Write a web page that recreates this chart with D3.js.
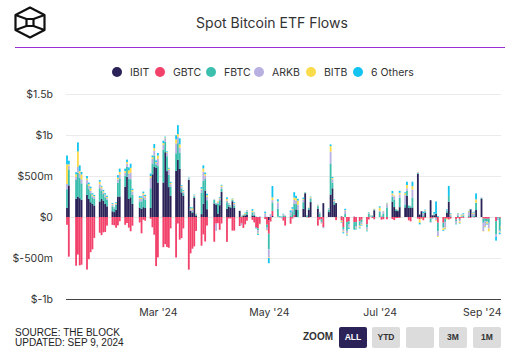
<!DOCTYPE html>
<html>
<head>
<meta charset="utf-8">
<script src="https://cdn.jsdelivr.net/npm/d3@7"></script>
<style>
  body { margin: 0; background: #fff; }
  svg { display: block; font-family: Inter, "Noto Sans", sans-serif; }
</style>
</head>
<body>
<svg id="chart" width="519" height="353"></svg>
<script>
// Trading days shown on the chart
const dates = [
  '2024-01-11','2024-01-12','2024-01-16','2024-01-17','2024-01-18','2024-01-19','2024-01-22','2024-01-23','2024-01-24','2024-01-25','2024-01-26','2024-01-29','2024-01-30','2024-01-31',
  '2024-02-01','2024-02-02','2024-02-05','2024-02-06','2024-02-07','2024-02-08','2024-02-09','2024-02-12','2024-02-13','2024-02-14','2024-02-15','2024-02-16','2024-02-20','2024-02-21','2024-02-22','2024-02-23','2024-02-26','2024-02-27','2024-02-28','2024-02-29',
  '2024-03-01','2024-03-04','2024-03-05','2024-03-06','2024-03-07','2024-03-08','2024-03-11','2024-03-12','2024-03-13','2024-03-14','2024-03-15','2024-03-18','2024-03-19','2024-03-20','2024-03-21','2024-03-22','2024-03-25','2024-03-26','2024-03-27','2024-03-28',
  '2024-04-01','2024-04-02','2024-04-03','2024-04-04','2024-04-05','2024-04-08','2024-04-09','2024-04-10','2024-04-11','2024-04-12','2024-04-15','2024-04-16','2024-04-17','2024-04-18','2024-04-19','2024-04-22','2024-04-23','2024-04-24','2024-04-25','2024-04-26','2024-04-29','2024-04-30',
  '2024-05-01','2024-05-02','2024-05-03','2024-05-06','2024-05-07','2024-05-08','2024-05-09','2024-05-10','2024-05-13','2024-05-14','2024-05-15','2024-05-16','2024-05-17','2024-05-20','2024-05-21','2024-05-22','2024-05-23','2024-05-24','2024-05-28','2024-05-29','2024-05-30','2024-05-31',
  '2024-06-03','2024-06-04','2024-06-05','2024-06-06','2024-06-07','2024-06-10','2024-06-11','2024-06-12','2024-06-13','2024-06-14','2024-06-17','2024-06-18','2024-06-20','2024-06-21','2024-06-24','2024-06-25','2024-06-26','2024-06-27','2024-06-28',
  '2024-07-01','2024-07-02','2024-07-03','2024-07-05','2024-07-08','2024-07-09','2024-07-10','2024-07-11','2024-07-12','2024-07-15','2024-07-16','2024-07-17','2024-07-18','2024-07-19','2024-07-22','2024-07-23','2024-07-24','2024-07-25','2024-07-26','2024-07-29','2024-07-30','2024-07-31',
  '2024-08-01','2024-08-02','2024-08-05','2024-08-06','2024-08-07','2024-08-08','2024-08-09','2024-08-12','2024-08-13','2024-08-14','2024-08-15','2024-08-16','2024-08-19','2024-08-20','2024-08-21','2024-08-22','2024-08-23','2024-08-26','2024-08-27','2024-08-28','2024-08-29','2024-08-30',
  '2024-09-03','2024-09-04','2024-09-05','2024-09-06'
];

// Daily net flows, $m (one line per month)
const ibit = [
  112,386,224,250,230,210,270,220,180,160,140,190,220,200,
  160,130,70,60,90,250,250,370,490,220,240,160,110,100,120,110,110,520,610,600,
  420,420,790,560,365,260,562,700,586,300,260,451,75,49,233,18,35,162,323,95,
  165,150,42,144,308,100,128,111,192,111,73,0,18,19,30,19,12,0,0,0,0,0,
  -37,0,12,0,0,0,0,0,0,0,0,93,0,100,290,0,89,182,102,0,0,169,
  60,274,350,150,169,6,0,0,0,0,0,0,0,0,0,0,0,0,82,
  0,0,0,0,187,121,73,72,120,117,260,110,111,116,526,30,70,0,50,205,20,21,
  40,0,0,0,52,187,0,0,0,0,0,0,0,94,0,0,85,224,0,0,0,0,
  0,0,0,0
];
const gbtc = [
  -95,-484,-594,-458,-590,-582,-641,-515,-429,-394,-255,-192,-221,-187,
  -182,-105,-96,-101,-131,-102,-51,-95,-73,-130,-174,-106,-67,-199,-34,-45,-22,-125,-216,-599,
  -492,-368,-332,-366,-375,-139,-494,-79,-276,-257,-139,-642,-443,-386,-358,-170,-350,-212,-299,-104,
  -302,-81,-75,-156,-79,-303,-18,-17,-166,-166,-110,-79,-133,-90,-45,-35,-66,-130,-139,-82,-25,-93,
  -167,-55,63,4,0,0,-44,-104,-82,-18,27,0,0,0,0,-3,-8,0,-105,-32,-29,-124,
  0,0,0,0,-38,-40,-121,0,-62,-52,-62,-62,-53,-34,-90,-30,0,-12,-27,
  0,-32,-27,-28,-25,-37,-12,-12,-10,0,0,-40,-53,0,-20,-30,-20,-40,-10,-20,-10,-5,
  -10,-70,-70,-20,-20,-30,-20,-30,-10,-25,-10,-10,-10,-10,0,-5,0,0,-20,-20,-22,-20,
  -50,0,-10,-20
];
const fbtc = [
  227,195,227,290,250,200,130,120,110,80,80,160,100,80,
  80,80,60,40,60,170,220,130,120,250,220,110,80,90,110,100,240,130,140,40,
  200,400,130,180,150,110,215,200,200,50,30,5,0,12,20,15,261,280,140,110,
  44,10,117,60,40,80,20,15,20,30,5,5,0,15,35,37,15,5,-23,-3,6,-36,
  -191,0,102,99,3,5,15,15,20,60,131,67,90,80,5,20,20,45,30,40,-30,-4,
  25,379,70,30,0,-4,-25,36,-106,-37,-92,-50,-45,-30,-35,40,5,12,10,
  65,6,40,117,61,91,20,10,115,36,60,30,20,120,10,0,0,20,20,-40,-5,10,
  -10,-104,-59,-40,20,70,10,-20,20,-10,5,20,20,0,10,20,90,10,-50,-30,-30,-50,
  -162,-10,-150,-85
];
const arkb = [
  65,42,40,70,50,50,50,40,30,20,25,50,30,20,
  25,20,20,10,10,40,50,40,40,60,80,40,30,30,40,30,130,60,60,20,
  90,60,40,40,60,30,120,80,60,20,20,10,20,25,10,10,40,110,40,40,
  5,-87,20,20,20,20,10,5,0,20,0,-20,0,5,10,5,20,0,-31,0,35,-31,
  -98,28,29,75,-5,-15,10,5,30,30,50,40,60,30,0,5,5,10,10,10,-20,-10,
  10,142,40,20,0,-5,-30,44,-33,-30,10,-20,-15,-25,-30,10,10,8,5,
  10,10,30,40,20,40,0,5,40,117,30,0,5,100,10,0,0,20,10,-10,-10,5,
  -20,-60,-10,-70,10,0,20,-25,20,-20,10,10,40,0,30,25,0,5,-102,-60,-10,-70,
  -30,-20,-20,-10
];
const bitb = [
  238,18,30,190,30,60,20,20,30,15,10,30,20,15,
  10,15,10,5,10,20,30,20,20,40,60,20,15,15,20,15,20,20,30,10,
  40,20,10,10,15,15,50,30,40,10,10,5,10,20,5,5,10,40,20,20,
  1,5,10,10,15,20,5,5,10,10,0,5,5,10,5,15,5,0,-10,-5,5,-5,
  -7,2,33,12,-5,0,5,0,5,10,30,30,50,10,5,0,5,10,5,5,-5,0,
  5,70,15,10,0,-15,-10,5,-15,-10,0,-10,-15,-10,-10,5,5,2,5,
  40,2,5,10,20,10,0,5,20,20,40,0,0,40,5,-40,-5,5,5,0,0,5,
  -10,-10,-20,-15,-10,0,10,-5,5,-20,10,5,10,0,10,10,40,0,-5,-10,-20,-35,
  0,0,-10,-30
];
const others = [
  108,46,24,110,70,30,30,20,20,15,15,20,10,15,
  15,15,10,5,10,30,40,30,30,35,50,15,20,15,20,15,30,20,50,20,
  30,30,10,10,10,15,50,110,74,10,10,10,15,10,5,0,20,38,19,19,
  1,5,0,10,10,20,5,5,5,10,0,5,5,5,5,20,5,-10,-15,5,20,3,
  -64,5,139,27,10,-1,10,0,25,20,65,27,22,17,5,0,0,5,3,5,0,0,
  5,20,13,7,0,-7,-14,15,-10,-16,-2,-10,-12,-7,-10,6,2,2,-2,
  15,0,0,5,30,0,0,0,25,11,40,0,0,55,0,-20,0,20,5,0,0,20,
  150,10,-10,-5,10,122,10,-10,5,-6,5,10,5,4,5,10,73,0,0,-5,-10,0,
  -46,-7,-21,-25
];

const seriesNames = ['IBIT', 'GBTC', 'FBTC', 'ARKB', 'BITB', '6 Others'];
const seriesValues = [ibit, gbtc, fbtc, arkb, bitb, others];
const yTicks = [-1000, -500, 0, 500, 1000, 1500];
const xTicks = ['2024-03-01', '2024-05-01', '2024-07-01', '2024-09-01'];
const zoomButtons = ['ALL', 'YTD', '', '3M', '1M'];

const colors = ['#2b2358', '#f2426b', '#3dbfae', '#b8b0e0', '#fadb4a', '#14c4f0'];

const svg = d3.select('#chart');
const parse = d3.utcParse('%Y-%m-%d');
const plot = { left: 66, right: 501, top: 94, bottom: 299 };

// Header: logo, title, divider
const logo = svg.append('g')
  .attr('fill', 'none')
  .attr('stroke', '#111')
  .attr('stroke-width', 2.2)
  .attr('stroke-linejoin', 'round');
logo.append('path').attr('d', 'M30,7.5 L44.5,15 L44.5,30 L30,37.5 L15.5,30 L15.5,15 Z');
logo.append('rect').attr('x', 26.5).attr('y', 19).attr('width', 7).attr('height', 7);
logo.append('path').attr('d', 'M15.5,15 L26.5,19 M44.5,15 L33.5,19 M15.5,30 L26.5,26 M44.5,30 L33.5,26');

svg.append('text')
  .attr('x', 272).attr('y', 28)
  .attr('text-anchor', 'middle')
  .attr('font-size', 14)
  .attr('fill', '#333')
  .text('Spot Bitcoin ETF Flows');

svg.append('line')
  .attr('x1', 15).attr('x2', 505)
  .attr('y1', 47.5).attr('y2', 47.5)
  .attr('stroke', '#9b2fd6').attr('stroke-width', 1);

// Legend
const legendX = [117, 160, 211, 259, 311, 358];
const legend = svg.append('g');
seriesNames.forEach((name, i) => {
  legend.append('circle')
    .attr('cx', legendX[i]).attr('cy', 72).attr('r', 5)
    .attr('fill', colors[i]);
  legend.append('text')
    .attr('x', legendX[i] + 13).attr('y', 72).attr('dy', '0.35em')
    .attr('font-size', 10.5).attr('fill', '#333')
    .text(name);
});

// Scales
const xScale = d3.scaleUtc()
  .domain([parse('2024-01-11'), parse('2024-09-06')])
  .range([67, 501.5]);
const yScale = d3.scaleLinear()
  .domain([-1000, 1500])
  .range([plot.bottom, plot.top]);

const dayWidth = xScale(parse('2024-01-12')) - xScale(parse('2024-01-11'));

// Grid and y labels
const fmtY = v => v === 0 ? '$0' : (Math.abs(v) >= 1000 ? `$${v / 1000}b` : `$${v}m`);
svg.append('g').selectAll('line')
  .data(yTicks.filter(t => t !== -1000))
  .enter().append('line')
  .attr('x1', plot.left).attr('x2', plot.right)
  .attr('y1', t => yScale(t) + 0.5).attr('y2', t => yScale(t) + 0.5)
  .attr('stroke', '#ebebeb');
svg.append('g').selectAll('text')
  .data(yTicks)
  .enter().append('text')
  .attr('x', 53).attr('y', t => yScale(t)).attr('dy', '0.35em')
  .attr('text-anchor', 'end')
  .attr('font-size', 10.5).attr('fill', '#333')
  .text(fmtY);

// Stacked bars
const rows = dates.map((d, i) => {
  const row = { date: parse(d) };
  seriesNames.forEach((name, j) => { row[name] = seriesValues[j][i]; });
  return row;
});
const stacked = d3.stack()
  .keys(seriesNames)
  .offset(d3.stackOffsetDiverging)(rows);

svg.append('clipPath').attr('id', 'plot-clip')
  .append('rect')
  .attr('x', plot.left).attr('y', plot.top - 10)
  .attr('width', plot.right - plot.left).attr('height', plot.bottom - plot.top + 10);

const bars = svg.append('g').attr('clip-path', 'url(#plot-clip)');
stacked.forEach((layer, i) => {
  bars.append('g')
    .attr('fill', colors[i])
    .selectAll('rect')
    .data(layer.filter(p => p[1] !== p[0]))
    .enter().append('rect')
    .attr('x', p => xScale(p.data.date) - dayWidth / 2)
    .attr('width', dayWidth)
    .attr('y', p => yScale(Math.max(p[0], p[1])))
    .attr('height', p => Math.abs(yScale(p[0]) - yScale(p[1])));
});

// X axis
svg.append('line')
  .attr('x1', plot.left).attr('x2', plot.right)
  .attr('y1', plot.bottom + 0.5).attr('y2', plot.bottom + 0.5)
  .attr('stroke', '#444').attr('stroke-width', 1);

const xAxis = svg.append('g')
  .attr('transform', `translate(0,${plot.bottom})`)
  .call(d3.axisBottom(xScale)
    .tickValues(xTicks.map(parse))
    .tickFormat(d3.utcFormat("%b '%y"))
    .tickSize(0)
    .tickPadding(10));
xAxis.select('.domain').remove();
xAxis.selectAll('text')
  .attr('font-size', 10.5).attr('fill', '#333')
  .attr('font-family', 'Inter, "Noto Sans", sans-serif');
// keep the last label inside the plot, as the original does
xAxis.selectAll('.tick').filter((d, i) => i === xTicks.length - 1)
  .select('text')
  .attr('text-anchor', 'end')
  .attr('x', plot.right - xScale(parse(xTicks[xTicks.length - 1])));

// Footer
const footer = svg.append('g')
  .attr('font-family', '"Liberation Sans", Arial, sans-serif')
  .attr('font-size', 10).attr('fill', '#222');
footer.append('text').attr('x', 15).attr('y', 335.5).text('SOURCE: THE BLOCK');
footer.append('text').attr('x', 15).attr('y', 346).text('UPDATED: SEP 9, 2024');

footer.append('text')
  .attr('x', 303).attr('y', 340)
  .attr('font-weight', 600).attr('fill', '#333')
  .text('ZOOM');

const buttonX = [339, 372, 406, 439, 473];
zoomButtons.forEach((label, i) => {
  const active = i === 0;
  footer.append('rect')
    .attr('x', buttonX[i]).attr('y', 327)
    .attr('width', 28).attr('height', 21).attr('rx', 2)
    .attr('fill', active ? '#2b2358' : '#dcdcdc');
  footer.append('text')
    .attr('x', buttonX[i] + 14).attr('y', 337.5).attr('dy', '0.35em')
    .attr('text-anchor', 'middle')
    .attr('font-size', 8.5).attr('font-weight', 700)
    .attr('fill', active ? '#fff' : '#333')
    .text(label);
});
</script>
</body>
</html>
